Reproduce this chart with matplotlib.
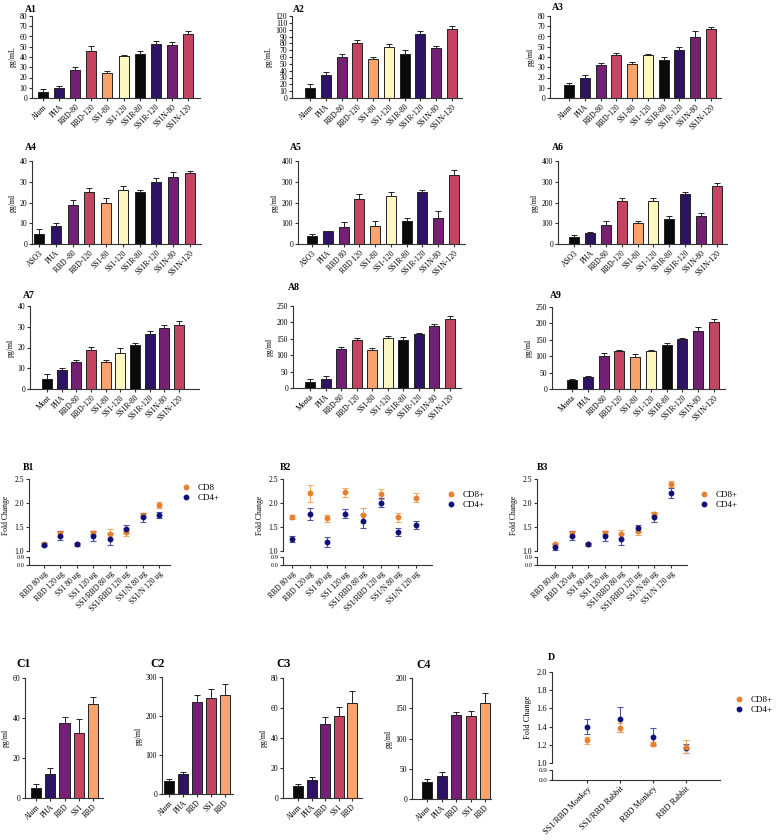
import numpy as np
import matplotlib
matplotlib.use("Agg")
import matplotlib.pyplot as plt
from matplotlib.lines import Line2D

plt.rcParams['font.family'] = ['Liberation Serif', 'DejaVu Serif']

W, H = 776, 840

# ---- data ----
grp_alum = ["Alum", "PHA", "RBD-80", "RBD-120", "SS1-80", "SS1-120", "SS1R-80", "SS1R-120", "SS1N-80", "SS1N-120"]
grp_a4 = ["ASO3", "PHA", "RBD -80", "RBD-120", "SS1-80", "SS1-120", "SS1R-80", "SS1R-120", "SS1N-80", "SS1N-120"]
grp_a5 = ["ASO3", "PHA", "RBD 80", "RBD 120", "SS1-80", "SS1-120", "SS1R-80", "SS1R-120", "SS1N-80", "SS1N-120"]
grp_a6 = ["ASO3", "PHA", "RBD-80", "RBD-120", "SS1-80", "SS1-120", "SS1R-80", "SS1R-120", "SS1N-80", "SS1N-120"]
grp_a7 = ["Mont", "PHA", "RBD-80", "RBD-120", "SS1-80", "SS1-120", "SS1R-80", "SS1R-120", "SS1N-80", "SS1N-120"]
grp_a8 = ["Monta", "PHA", "RBD-80", "RBD-120", "SS1-80", "SS1-120", "SS1R-80", "SS1R-120", "SS1N-80", "SS1N-120"]

a1 = [6, 10, 27, 46, 24, 41, 42.5, 53, 51.5, 62]
a1_err = [3, 2, 3, 5, 2.5, 1, 3.3, 2.3, 3.6, 3]
a2 = [14.5, 34, 59.5, 80, 56.5, 74.5, 65, 94, 72.5, 100.5]
a2_err = [6, 4, 5.5, 5.5, 4, 5, 5, 4, 3, 4.5]
a3 = [12.3, 20, 32, 42, 33, 42, 37, 47, 59.7, 67.4]
a3_err = [2.5, 2, 2.3, 1.8, 2, 1, 2.6, 2.7, 5.5, 2]
a4 = [5, 8.8, 19, 25, 20, 26, 25, 30, 32.3, 34]
a4_err = [2, 1.2, 2, 2, 2, 2, 1, 2, 2.2, 1]
a5 = [38, 61, 82, 218, 87, 230, 109, 250, 125, 334]
a5_err = [8, 3, 24, 23, 22, 20, 16, 8, 32, 24]
a6 = [35, 51, 93, 205, 101, 209, 122, 243, 135, 280]
a6_err = [6, 6, 19, 18, 11, 13, 14, 9, 12, 12]
a7 = [5, 9, 13, 19, 13, 17.4, 21, 26.7, 29.3, 30.7]
a7_err = [2, 1, 1.1, 1.2, 1.1, 2.2, 1.1, 1.3, 1.6, 2.1]
a8 = [18, 26.5, 120, 146, 117, 151, 146, 164, 189, 209]
a8_err = [8, 9, 6, 5, 5, 8, 8, 5, 5, 11]
a9 = [27, 37, 101, 115, 99, 117, 135, 151, 178, 205]
a9_err = [5, 4, 10, 5, 7, 3, 5, 5, 10, 7]

dose_labels = ["RBD 80 ug", "RBD 120 ug", "SS1 80 ug", "SS1 120 ug",
               "SS1/RBD 80 ug", "SS1/RBD 120 ug", "SS1/N 80 ug", "SS1/N 120 ug"]
b1_cd8 = [1.15, 1.37, 1.15, 1.37, 1.35, 1.40, 1.75, 1.96]
b1_cd8_err = [0.03, 0.05, 0.02, 0.04, 0.1, 0.08, 0.05, 0.06]
b1_cd4 = [1.13, 1.32, 1.14, 1.31, 1.25, 1.46, 1.70, 1.75]
b1_cd4_err = [0.03, 0.1, 0.03, 0.1, 0.12, 0.08, 0.1, 0.06]
b2_cd8 = [1.70, 2.20, 1.68, 2.22, 1.74, 2.19, 1.70, 2.11]
b2_cd8_err = [0.04, 0.17, 0.07, 0.1, 0.15, 0.1, 0.09, 0.09]
b2_cd4 = [1.25, 1.77, 1.19, 1.78, 1.63, 2.01, 1.40, 1.54]
b2_cd4_err = [0.06, 0.12, 0.1, 0.1, 0.15, 0.1, 0.08, 0.08]
b3_cd8 = [1.14, 1.37, 1.15, 1.37, 1.35, 1.41, 1.77, 2.40]
b3_cd8_err = [0.03, 0.05, 0.02, 0.04, 0.09, 0.08, 0.05, 0.06]
b3_cd4 = [1.08, 1.32, 1.14, 1.31, 1.25, 1.47, 1.70, 2.21]
b3_cd4_err = [0.06, 0.1, 0.03, 0.1, 0.12, 0.07, 0.1, 0.1]

grp_c = ["Alum", "PHA", "RBD", "SS1", "RBD"]
c1 = [5, 12, 37.6, 32.7, 47.2]
c1_err = [2, 3, 2.7, 6.6, 3.2]
c2 = [34, 51, 237, 246, 255]
c2_err = [5, 4.5, 16, 24, 28]
c3 = [8.2, 11.7, 49.3, 54.4, 63.2]
c3_err = [1.3, 2.4, 5, 6, 8]
c4 = [28, 38, 139, 138, 158]
c4_err = [5, 6.5, 4, 7, 18]

species_labels = ["SS1/RBD Monkey", "SS1/RBD Rabbit", "RBD Monkey", "RBD Rabbit"]
d_cd8 = [1.25, 1.39, 1.21, 1.18]
d_cd8_err = [0.04, 0.05, 0.02, 0.07]
d_cd4 = [1.40, 1.48, 1.29, 1.16]
d_cd4_err = [0.08, 0.14, 0.09, 0.05]

magma10 = ['#0a0a0a', '#2e1263', '#732075', '#c44562', '#f9a46c',
           '#fdf7c0', '#0a0a0a', '#2e1263', '#732075', '#c44562']
magma5 = ['#0a0a0a', '#2e1263', '#732075', '#c44562', '#f9a46c']
orange = '#e8802e'
navy = '#10107a'

fig = plt.figure(figsize=(W / 100, H / 100), dpi=100)


def px_axes(l, t, r, b):
    return fig.add_axes([l / W, 1 - b / H, (r - l) / W, (b - t) / H])


def style(ax, fs=5.5):
    for s in ['top', 'right']:
        ax.spines[s].set_visible(False)
    for s in ['left', 'bottom']:
        ax.spines[s].set_color('#333333')
        ax.spines[s].set_linewidth(0.8)
    ax.tick_params(length=2, width=0.8, color='#333333', labelsize=fs, pad=1.5)


def title(x, y, s, fs=7):
    fig.text(x / W, 1 - y / H, s, fontsize=fs, fontweight='bold', va='center', ha='left')


def bar_panel(lay, labels, vals, errs, colors, ymax, step, ylabel, bw_px=10, fs=5.5):
    axl, axr, fb, lb, top, bot = lay
    ax = px_axes(axl, top, axr, bot)
    n = len(vals)
    sp = (lb - fb) / (n - 1)
    x = np.arange(n)
    ax.bar(x, vals, width=bw_px / sp, color=colors, edgecolor='#222222', linewidth=0.7, zorder=2)
    ax.errorbar(x, vals, yerr=[np.zeros(n), errs], fmt='none', ecolor='#222222',
                elinewidth=0.7, capsize=2, capthick=0.7, zorder=1)
    ax.set_xlim(-(fb - axl) / sp, n - 1 + (axr - lb) / sp)
    ax.set_ylim(0, ymax)
    ax.set_yticks(np.arange(0, ymax + step / 2, step))
    ax.set_xticks(x)
    ax.set_xticklabels(labels, rotation=45, ha='right', rotation_mode='anchor')
    ax.set_ylabel(ylabel, fontsize=fs, labelpad=2)
    style(ax, fs)
    return ax


# ---- A panels ----
bar_panel((32, 200, 43, 188, 16, 98), grp_alum, a1, a1_err, magma10, 80, 10, "pg/mL")
bar_panel((292, 462, 310, 452, 16, 98), grp_alum, a2, a2_err, magma10, 120, 10, "pg/mL")
bar_panel((550, 721, 569, 711, 16, 98), grp_alum, a3, a3_err, magma10, 80, 10, "pg/ml")
bar_panel((32, 201, 39, 190, 161, 244), grp_a4, a4, a4_err, magma10, 40, 10, "pg/ml")
bar_panel((298, 465, 312, 454, 161, 244), grp_a5, a5, a5_err, magma10, 400, 100, "pg/ml")
bar_panel((558, 727, 574, 717, 161, 244), grp_a6, a6, a6_err, magma10, 400, 100, "pg/ml")
bar_panel((30, 199, 47, 179, 306, 389), grp_a7, a7, a7_err, magma10, 40, 10, "pg/ml")
bar_panel((293, 461, 310, 450, 306, 388), grp_a8, a8, a8_err, magma10, 250, 50, "pg/ml")
bar_panel((552, 725, 572, 714, 307, 389), grp_a8, a9, a9_err, magma10, 250, 50, "pg/ml")

title(25, 10, "A1")
title(293, 10, "A2")
title(552, 7, "A3")
title(25, 148, "A4")
title(290, 148, "A5")
title(552, 148, "A6")
title(23, 295, "A7")
title(288, 288, "A8")
title(550, 295, "A9")


# ---- fold change panels ----
def dot_panel(lay, labels, cd8, cd8e, cd4, cd4e, ytop, yticks, leg_xy, leg_labels,
              rot=45, fs=5.5, draw_cd4_first=False):
    axl, axr, fp, lp, y_top, y_one, y_09, y_00 = lay
    ax = px_axes(axl, y_top, axr, y_one)
    axb = px_axes(axl, y_09, axr, y_00)
    n = len(cd8)
    sp = (lp - fp) / (n - 1)
    x = np.arange(n)
    series = [(cd8, cd8e, orange, '#f2a962'), (cd4, cd4e, navy, '#5252a8')]
    if draw_cd4_first:
        series = series[::-1]
    for v, e, c, ec in series:
        ax.errorbar(x, v, yerr=e, fmt='o', color=c, ecolor=ec, markersize=3.2,
                    elinewidth=0.8, capsize=2, capthick=0.8)
    xl = (-(fp - axl) / sp, n - 1 + (axr - lp) / sp)
    for a in (ax, axb):
        a.set_xlim(*xl)
        style(a, fs)
    ax.set_ylim(1.0, ytop)
    ax.set_yticks(yticks)
    ax.set_yticklabels([f"{t:.1f}" for t in yticks])
    ax.spines['bottom'].set_visible(False)
    ax.set_xticks([])
    ax.set_ylabel("Fold Change", fontsize=fs, labelpad=3)
    axb.set_ylim(0, 0.9)
    axb.set_yticks([0, 0.9])
    axb.set_yticklabels(["0.0", "0.9"])
    axb.tick_params(axis='y', labelsize=fs - 1)
    axb.set_xticks(x)
    axb.set_xticklabels(labels, rotation=rot, ha='right', rotation_mode='anchor')
    handles = [Line2D([], [], marker='o', ls='none', color=orange, markersize=3.2),
               Line2D([], [], marker='o', ls='none', color=navy, markersize=3.2)]
    mx, my = leg_xy
    ax.legend(handles, leg_labels, loc='upper left',
              bbox_to_anchor=((mx - 5) / W, 1 - (my - 5) / H), bbox_transform=fig.transFigure,
              frameon=False, fontsize=6.5, handlelength=0.8, handletextpad=0.9,
              labelspacing=0.2, borderpad=0, borderaxespad=0)
    return ax


dot_panel((29, 170, 44, 159, 479, 551, 557, 565), dose_labels, b1_cd8, b1_cd8_err,
          b1_cd4, b1_cd4_err, 2.5, [1.0, 1.5, 2.0, 2.5], (187, 489), ["CD8", "CD4+"])
dot_panel((283, 432, 292, 416, 479, 551, 557, 565), dose_labels, b2_cd8, b2_cd8_err,
          b2_cd4, b2_cd4_err, 2.5, [1.0, 1.5, 2.0, 2.5], (452, 496), ["CD8+", "CD4+"])
dot_panel((537, 687, 555, 671, 479, 551, 557, 565), dose_labels, b3_cd8, b3_cd8_err,
          b3_cd4, b3_cd4_err, 2.5, [1.0, 1.5, 2.0, 2.5], (705, 496), ["CD8+", "CD4+"])
title(23, 467, "B1")
title(280, 467, "B2")
title(537, 467, "B3")

# ---- C panels ----
bar_panel((25, 103, 36, 93, 678, 798), grp_c, c1, c1_err, magma5, 60, 20, "pg/ml")
bar_panel((162, 233, 169, 225, 677, 794), grp_c, c2, c2_err, magma5, 300, 100, "pg/ml")
bar_panel((283, 362, 298, 352, 678, 798), grp_c, c3, c3_err, magma5, 80, 20, "pg/ml")
bar_panel((412, 491, 427, 485, 678, 799), grp_c, c4, c4_err, magma5, 200, 50, "pg/ml")
title(16, 664, "C1", fs=8.5)
title(150, 664, "C2", fs=8.5)
title(276, 664, "C3", fs=8.5)
title(416, 665, "C4", fs=8.5)

# ---- D ----
dot_panel((552, 720, 587, 686, 672, 763, 770, 780), species_labels, d_cd8, d_cd8_err,
          d_cd4, d_cd4_err, 2.0, [1.0, 1.2, 1.4, 1.6, 1.8, 2.0], (740, 701), ["CD8+", "CD4+"],
          rot=45, fs=6, draw_cd4_first=True)
title(548, 658, "D", fs=7)

fig.savefig("out.png", dpi=100)
